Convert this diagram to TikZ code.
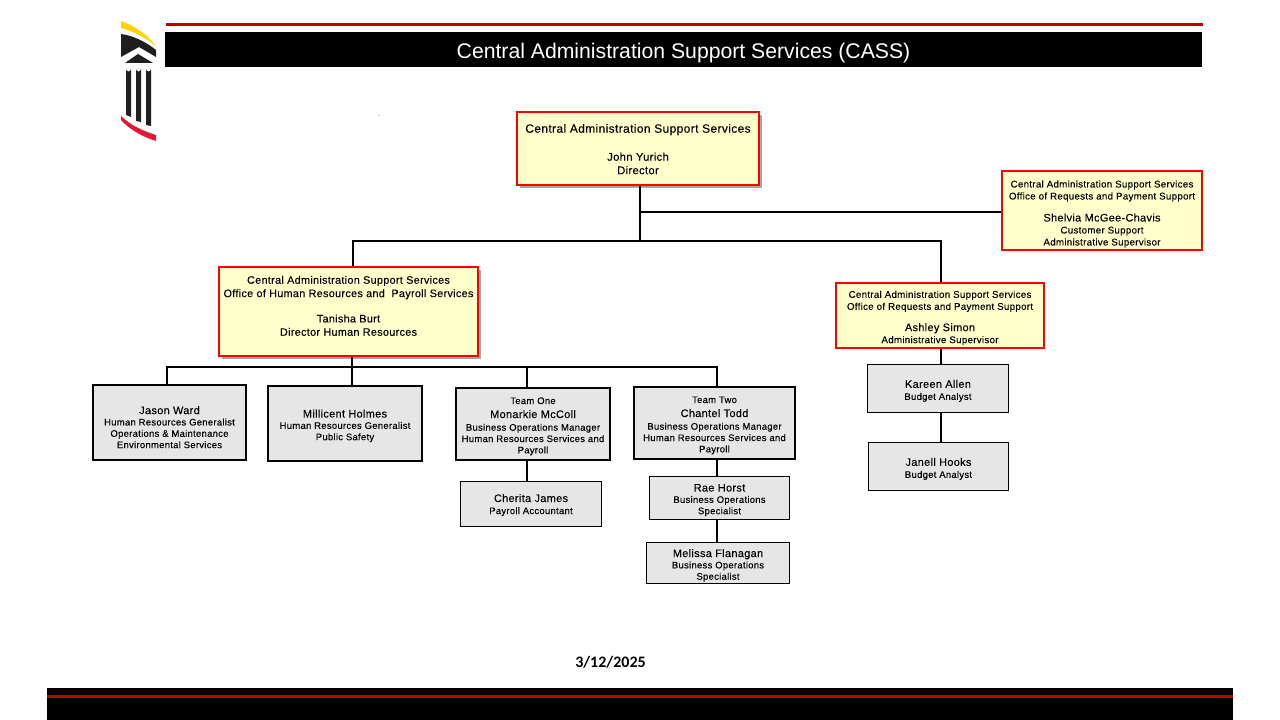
\documentclass[tikz,border=0pt]{standalone}
\usepackage{fontspec}
\setmainfont{Liberation Sans}
\newfontfamily\boxfont{Liberation Sans}[LetterSpace=3,FakeBold=0.12]
\newfontfamily\datefont{Carlito}
\usetikzlibrary{shadows}
\definecolor{boxyellow}{HTML}{FFFFCC}
\definecolor{boxgrey}{HTML}{E6E6E6}
\definecolor{darkred}{HTML}{C00000}
\definecolor{logoyellow}{HTML}{FFD200}
\definecolor{logored}{HTML}{E21833}
\newcommand{\fsize}[1]{\fontsize{#1}{9}\selectfont}
\newcommand{\fname}{\fsize{8.2}}
\newcommand{\fsub}{\fsize{7.1}}
\newcommand{\fyel}{\fsize{7.3}}
\newcommand{\topgap}[1]{\rule{0pt}{#1}}
\newcommand{\botgap}[1]{\rule[-#1]{0pt}{#1}}
\begin{document}
\begin{tikzpicture}[
    x=0.75pt,
    y=-0.75pt,
    size/.style 2 args={
        minimum width=#1*0.75pt,
        minimum height=#2*0.75pt
    },
    basebox/.style={
        rectangle,
        draw,
        inner sep=0pt,
        align=center
    },
    redbox/.style={
        basebox,
        draw=red,
        fill=boxyellow,
        line width=1.8pt
    },
    shadowbox/.style={
        redbox,
        drop shadow={shadow xshift=2.2pt, shadow yshift=-2.2pt, fill=black, opacity=0.35}
    },
    greybox/.style={
        basebox,
        fill=boxgrey,
        line width=1.5pt
    },
    thinbox/.style={
        basebox,
        fill=boxgrey,
        line width=0.6pt
    },
    link/.style={
        draw,
        line width=1.5pt
    },
    lead/.style={
        font=\boxfont\fontsize{8}{#1}\selectfont
    }
]
\useasboundingbox (0,0) rectangle (1280,720);

% Header
\fill[darkred] (166,23) rectangle (1203,26);
\node[fill=black, text=white, font=\fontsize{15.9}{18}\selectfont, minimum width=777.75pt, minimum height=26.25pt, inner sep=0pt, text height=15pt, text depth=1pt] (header) at (683.5,49.5) {Central Administration Support Services (CASS)};

% Logo
\fill[logoyellow] (121,21) .. controls (135,26) and (148,35) .. (156,46) .. controls (146,38) and (133,31) .. (121,28) -- cycle;
\fill[black!88] (121,34) .. controls (133,35.5) and (146,42) .. (156,50) -- (156,57) -- (139,47) -- (121,57) -- cycle;
\fill[black!88] (125,63) -- (138,54) -- (153,63) -- cycle;
\fill[black!88] (126,115) -- (126,69) arc (180:0:2.5) -- (131,117) -- cycle;
\fill[black!88] (136,121) -- (136,69) arc (180:0:2.5) -- (141,122) -- cycle;
\fill[black!88] (146,125) -- (146,69) arc (180:0:2.5) -- (151,126) -- cycle;
\fill[logored] (121,116) .. controls (130,125) and (143,131) .. (156,135) -- (156,141) .. controls (143,137) and (130,130) .. (121,120) -- cycle;
\node[font=\fontsize{5}{5}\selectfont, inner sep=0pt] (dot) at (379,116.5) {.};

% Yellow boxes
\node[shadowbox, size={242}{73}, lead=10.1pt] (director) at (638,148.5) {\fsize{9}\topgap{7.5pt}Central Administration Support Services\\[10.9pt]\fsize{8.4}John Yurich\\\fsize{8.4}Director};
\node[redbox, size={200}{79}, lead=9pt] (shelvia) at (1102,210.5) {\fyel\topgap{10.5pt}Central Administration Support Services\\\fyel Office of Requests and Payment Support\\[7.5pt]\fname Shelvia McGee-Chavis\\\fyel Customer Support\\\fyel Administrative Supervisor};
\node[redbox, size={208}{65}, lead=9pt] (ashley) at (940,315.5) {\fyel\topgap{9pt}Central Administration Support Services\\\fyel Office of Requests and Payment Support\\[7pt]\fname Ashley Simon\\\fyel Administrative Supervisor};
\node[shadowbox, size={259}{89}, lead=10pt] (tanisha) at (348.5,311.5) {\fsize{8.1}Central Administration Support Services\\\fsize{8.1}Office of Human Resources and~ Payroll Services\\[9pt]\fsize{8.1}Tanisha Burt\\\fsize{8.1}Director Human Resources\botgap{8.5pt}};

% Grey boxes
\node[greybox, size={153}{75}, lead=8.5pt] (jason) at (169.5,422.5) {\fname\topgap{13pt}Jason Ward\\\fsub Human Resources Generalist\\\fsub Operations \& Maintenance\\\fsub Environmental Services};
\node[greybox, size={154}{75}, lead=8.5pt] (millicent) at (345,423.5) {\fname\topgap{9.5pt}Millicent Holmes\\\fsub Human Resources Generalist\\\fsub Public Safety};
\node[greybox, size={154}{72}, lead=8.5pt] (monarkie) at (533,424) {\fsub\topgap{8.5pt}Team One\\[2pt]\fname Monarkie McColl\\[1pt]\fsub Business Operations Manager\\\fsub Human Resources Services and\\\fsub Payroll};
\node[greybox, size={161}{72}, lead=8.5pt] (chantel) at (714.5,423) {\fsub\topgap{8.5pt}Team Two\\[2pt]\fname Chantel Todd\\[1pt]\fsub Business Operations Manager\\\fsub Human Resources Services and\\\fsub Payroll};
\node[thinbox, size={141}{45}, lead=9pt] (cherita) at (531,504) {\fname\topgap{7.5pt}Cherita James\\\fsub Payroll Accountant};
\node[thinbox, size={140}{43}, lead=8.5pt] (rae) at (719.5,497.5) {\fname\topgap{9.5pt}Rae Horst\\\fsub Business Operations\\\fsub Specialist};
\node[thinbox, size={143}{41}, lead=8.5pt] (melissa) at (718,563) {\fname\topgap{9.5pt}Melissa Flanagan\\\fsub Business Operations\\\fsub Specialist};
\node[thinbox, size={141}{48}, lead=9pt] (kareen) at (938,388.5) {\fname\topgap{9.5pt}Kareen Allen\\\fsub Budget Analyst};
\node[thinbox, size={140}{48}, lead=9pt] (janell) at (938.5,466.5) {\fname\topgap{9.5pt}Janell Hooks\\\fsub Budget Analyst};

% Junctions
\coordinate (topdrop) at (640,240);
\coordinate (topbranch) at (640,212);
\coordinate (busleft) at (353,241);
\coordinate (busright) at (941,241);
\coordinate (hrleft) at (167,367);
\coordinate (hrright) at (717,367);
\coordinate (hrmid) at (352,367);
\coordinate (hrteam) at (527,367);

% Connectors
\draw[link] (director.south -| topdrop) -- (topdrop);
\draw[link] (topbranch) -- (shelvia.west |- topbranch);
\draw[link] (tanisha.north -| busleft) -- (busleft) -- (busright) -- (ashley.north -| busright);
\draw[link] (tanisha.south -| hrmid) -- (millicent.north -| hrmid);
\draw[link] (jason.north -| hrleft) -- (hrleft) -- (hrright) -- (chantel.north -| hrright);
\draw[link] (hrteam) -- (monarkie.north -| hrteam);
\draw[link] (monarkie.south -| hrteam) -- (cherita.north -| hrteam);
\draw[link] (chantel.south -| hrright) -- (rae.north -| hrright);
\draw[link] (rae.south -| hrright) -- (melissa.north -| hrright);
\draw[link] (ashley.south -| busright) -- (kareen.north -| busright);
\draw[link] (kareen.south -| busright) -- (janell.north -| busright);

% Footer
\node[font=\datefont\bfseries\fontsize{12}{14}\selectfont, inner sep=0pt] (date) at (610.5,662) {3/12/2025};
\fill[black] (47,688) rectangle (1233,720);
\fill[darkred] (47,695) rectangle (1233,698);
\end{tikzpicture}
\end{document}
